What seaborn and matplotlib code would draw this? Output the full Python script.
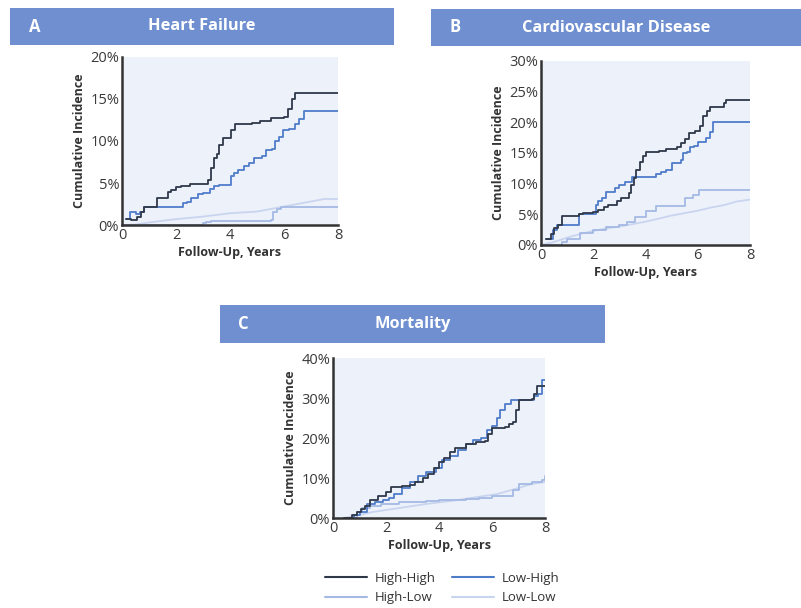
import matplotlib
matplotlib.use("Agg")
from matplotlib import pyplot as plt
from matplotlib.patches import Rectangle
from matplotlib.lines import Line2D
import pandas as pd
import seaborn as sns

# Panel A - Heart Failure
hf_hh_t = [0.15, 0.35, 0.55, 0.7, 0.8, 1.3, 1.7, 1.8, 2.0, 2.2, 2.5, 3.2, 3.3, 3.4, 3.5, 3.6, 3.75, 3.9, 4.05, 4.2, 4.8, 5.1, 5.5, 6.0, 6.15, 6.3, 6.4, 8.0]
hf_hh_v = [0.7, 0.6, 0.9, 1.6, 2.2, 3.2, 3.9, 4.2, 4.5, 4.7, 4.9, 5.3, 6.8, 8.0, 8.5, 9.5, 10.3, 10.4, 11.3, 12.0, 12.1, 12.4, 12.7, 12.8, 13.8, 15.0, 15.7, 15.7]
hf_lh_t = [0.15, 0.3, 0.5, 0.65, 0.8, 2.25, 2.4, 2.55, 2.8, 3.0, 3.25, 3.4, 3.6, 4.05, 4.15, 4.3, 4.5, 4.7, 4.9, 5.2, 5.35, 5.55, 5.65, 5.8, 5.95, 6.2, 6.4, 6.55, 6.75, 8.0]
hf_lh_v = [0.7, 1.5, 1.3, 1.6, 2.2, 2.6, 2.7, 3.2, 3.7, 3.8, 4.3, 4.7, 4.8, 5.8, 6.2, 6.5, 7.0, 7.4, 8.0, 8.2, 8.9, 9.0, 10.0, 10.5, 11.3, 11.4, 12.0, 12.6, 13.6, 13.6]
hf_hl_t = [0, 2.9, 3.0, 3.1, 3.3, 5.5, 5.6, 5.75, 5.9, 8.0]
hf_hl_v = [0, 0, 0.2, 0.4, 0.5, 0.6, 1.5, 1.9, 2.2, 2.2]
hf_ll_t = [0, 0.5, 1.0, 1.5, 2.0, 2.5, 3.0, 3.5, 4.0, 4.5, 5.0, 5.5, 6.0, 6.5, 7.0, 7.5, 8.0]
hf_ll_v = [0, 0.05, 0.3, 0.5, 0.7, 0.85, 1.0, 1.2, 1.4, 1.5, 1.6, 1.9, 2.2, 2.5, 2.8, 3.1, 3.1]

# Panel B - Cardiovascular Disease
cvd_hh_t = [0.2, 0.4, 0.5, 0.65, 0.8, 1.45, 1.6, 2.0, 2.2, 2.4, 2.55, 2.9, 3.05, 3.35, 3.45, 3.55, 3.65, 3.8, 3.9, 4.0, 4.5, 4.8, 5.2, 5.35, 5.5, 5.65, 5.9, 6.1, 6.2, 6.35, 6.45, 7.0, 7.1, 8.0]
cvd_hh_v = [1.0, 1.8, 2.8, 3.2, 4.7, 5.0, 5.2, 5.3, 5.7, 6.2, 6.5, 7.2, 7.6, 8.5, 9.8, 11.0, 12.2, 13.5, 14.5, 15.2, 15.4, 15.6, 16.0, 16.6, 17.3, 18.2, 18.6, 19.4, 21.0, 21.8, 22.5, 23.2, 23.7, 23.7]
cvd_lh_t = [0.2, 0.45, 0.6, 1.45, 2.1, 2.2, 2.35, 2.5, 2.85, 3.0, 3.2, 3.5, 4.4, 4.6, 4.8, 5.0, 5.35, 5.45, 5.6, 5.7, 5.85, 6.0, 6.2, 6.3, 6.45, 6.6, 8.0]
cvd_lh_v = [1.0, 2.5, 3.3, 5.0, 6.5, 7.2, 7.6, 8.6, 9.3, 9.8, 10.2, 11.1, 11.5, 11.9, 12.3, 13.4, 13.9, 15.0, 15.1, 15.9, 16.2, 16.8, 16.8, 17.5, 18.5, 20.0, 20.0]
cvd_hl_t = [0, 0.7, 0.8, 1.0, 1.5, 2.0, 2.5, 3.0, 3.3, 3.6, 4.0, 4.4, 5.4, 5.5, 5.8, 6.05, 8.0]
cvd_hl_v = [0, 0, 0.5, 1.0, 2.0, 2.5, 2.9, 3.3, 3.8, 4.5, 5.5, 6.4, 6.4, 7.6, 8.2, 9.0, 9.0]
cvd_ll_t = [0, 0.5, 1.0, 1.5, 2.0, 2.5, 3.0, 3.5, 4.0, 4.5, 5.0, 5.5, 6.0, 6.5, 7.0, 7.5, 8.0]
cvd_ll_v = [0, 0.5, 1.2, 1.8, 2.3, 2.7, 3.0, 3.4, 3.8, 4.3, 4.8, 5.2, 5.6, 6.1, 6.5, 7.1, 7.4]

# Panel C - Mortality
mort_hh_t = [0.4, 0.7, 0.9, 1.05, 1.2, 1.4, 1.7, 2.0, 2.2, 2.6, 2.9, 3.1, 3.4, 3.6, 3.8, 4.0, 4.2, 4.4, 4.6, 5.0, 5.4, 5.75, 5.85, 6.0, 6.5, 6.65, 6.8, 6.9, 7.0, 7.5, 7.6, 7.7, 8.0]
mort_hh_v = [0, 0.8, 1.5, 2.3, 3.0, 4.5, 5.5, 6.5, 7.7, 7.9, 8.3, 9.0, 10.0, 11.0, 12.5, 14.0, 15.0, 16.5, 17.5, 18.5, 19.0, 19.2, 21.0, 22.5, 22.7, 23.5, 24.0, 27.0, 29.6, 29.8, 31.0, 33.0, 33.0]
mort_lh_t = [0.5, 0.8, 1.0, 1.3, 1.6, 1.9, 2.1, 2.3, 2.6, 2.9, 3.2, 3.5, 3.9, 4.1, 4.4, 4.7, 5.0, 5.3, 5.6, 5.8, 6.0, 6.2, 6.3, 6.5, 6.7, 7.6, 7.75, 7.9, 8.0]
mort_lh_v = [0, 0.8, 1.5, 3.5, 4.0, 4.5, 5.0, 6.0, 7.5, 9.0, 10.5, 11.5, 12.5, 14.5, 15.5, 17.0, 18.5, 19.5, 20.0, 22.0, 23.0, 25.0, 27.0, 28.5, 29.5, 30.5, 31.0, 34.5, 34.5]
mort_hl_t = [0.4, 0.9, 1.1, 1.4, 1.8, 2.5, 3.5, 4.0, 5.0, 5.5, 6.0, 6.7, 6.8, 7.0, 7.5, 7.9, 8.0]
mort_hl_v = [0, 1.5, 2.5, 3.0, 3.5, 4.0, 4.3, 4.6, 4.7, 5.0, 5.5, 5.5, 7.0, 8.5, 9.0, 9.5, 10.5]
mort_ll_t = [0.4, 0.8, 1.5, 2.5, 3.5, 4.5, 5.2, 6.2, 7.0, 7.5, 8.0]
mort_ll_v = [0, 0.5, 1.5, 2.5, 3.5, 4.3, 5.0, 6.0, 7.5, 8.5, 9.0]

groups = ["High-High", "Low-High", "High-Low", "Low-Low"]
colors = {"High-High": "#2e3849", "Low-High": "#4f7cc9",
          "High-Low": "#a4b9e4", "Low-Low": "#c9d5ef"}

panels = [
    ("A", "Heart Failure", 20, [0, 5, 10, 15, 20],
     [(hf_hh_t, hf_hh_v), (hf_lh_t, hf_lh_v), (hf_hl_t, hf_hl_v), (hf_ll_t, hf_ll_v)]),
    ("B", "Cardiovascular Disease", 30, [0, 5, 10, 15, 20, 25, 30],
     [(cvd_hh_t, cvd_hh_v), (cvd_lh_t, cvd_lh_v), (cvd_hl_t, cvd_hl_v), (cvd_ll_t, cvd_ll_v)]),
    ("C", "Mortality", 40, [0, 10, 20, 30, 40],
     [(mort_hh_t, mort_hh_v), (mort_lh_t, mort_lh_v), (mort_hl_t, mort_hl_v), (mort_ll_t, mort_ll_v)]),
]

# pixel boxes: axes (left, top, right, bottom), header (left, top, right, bottom), letter x
axes_px = [(122, 57, 338, 225), (541, 61, 750, 245), (333, 358, 545, 518)]
header_px = [(10, 8, 394, 45), (431, 9, 801, 46), (220, 305, 605, 343)]
letter_px = [35, 455, 243]

W, H = 801, 608

sns.set_theme(style="white")
plt.rcParams['font.family'] = ['Open Sans', 'DejaVu Sans']

fig = plt.figure(figsize=(W / 100, H / 100), dpi=100)
fig.patch.set_facecolor("white")


def make_frame(series, names):
    frames = []
    for name, (t, v) in zip(groups, series):
        if name in names:
            frames.append(pd.DataFrame({"time": t, "incidence": v, "group": name}))
    return pd.concat(frames, ignore_index=True)


for (letter, title, ymax, yticks, series), (l, t, r, b), (hl, ht, hr, hb), lx in zip(
        panels, axes_px, header_px, letter_px):
    # header bar
    fig.add_artist(Rectangle((hl / W, 1 - hb / H), (hr - hl) / W, (hb - ht) / H,
                             transform=fig.transFigure, facecolor="#6f8fd0",
                             edgecolor="none"))
    fig.text(lx / W, 1 - (ht + hb) / 2 / H, letter, color="white", fontsize=12,
             fontweight="bold", ha="center", va="center")
    fig.text((hl + hr) / 2 / W, 1 - (ht + hb) / 2 / H, title, color="white",
             fontsize=11.8, fontweight="bold", ha="center", va="center")

    ax = fig.add_axes([l / W, 1 - b / H, (r - l) / W, (b - t) / H])
    ax.set_facecolor("#edf1f9")
    # the low-low curve is nearly smooth, the others are step curves
    sns.lineplot(data=make_frame(series, ["Low-Low"]), x="time", y="incidence",
                 hue="group", palette=colors, estimator=None, sort=False,
                 linewidth=1.3, legend=False, ax=ax)
    sns.lineplot(data=make_frame(series, ["High-Low", "Low-High", "High-High"]),
                 x="time", y="incidence", hue="group",
                 hue_order=["High-Low", "Low-High", "High-High"], palette=colors,
                 estimator=None, sort=False, drawstyle="steps-post",
                 linewidth=1.3, legend=False, ax=ax)
    ax.set_xlim(0, 8)
    ax.set_ylim(0, ymax)
    ax.set_xticks([0, 2, 4, 6, 8])
    ax.set_yticks(yticks)
    ax.set_yticklabels([f"{y}%" for y in yticks])
    ax.tick_params(length=0, labelsize=10.5, labelcolor="#3a3a3a", pad=2)
    for side in ["top", "right"]:
        ax.spines[side].set_visible(False)
    for side in ["left", "bottom"]:
        ax.spines[side].set_color("#333333")
        ax.spines[side].set_linewidth(1.8)
    ax.set_xlabel("Follow-Up, Years", fontsize=9, fontweight="bold",
                  color="#333333", labelpad=2)
    ax.set_ylabel("Cumulative Incidence", fontsize=9, fontweight="bold",
                  color="#333333", labelpad=3)

handles = [Line2D([], [], color=colors[g], linewidth=1.5) for g in
           ["High-High", "High-Low", "Low-High", "Low-Low"]]
labels = ["High-High", "High-Low", "Low-High", "Low-Low"]
fig.legend(handles, labels, ncol=2, frameon=False, fontsize=9.5,
           loc="center", bbox_to_anchor=(442 / W, 1 - 588 / H),
           handlelength=3.2, columnspacing=1.2, labelspacing=0.5,
           handletextpad=0.6, labelcolor="#333333")

fig.savefig("out.png", dpi=100)
